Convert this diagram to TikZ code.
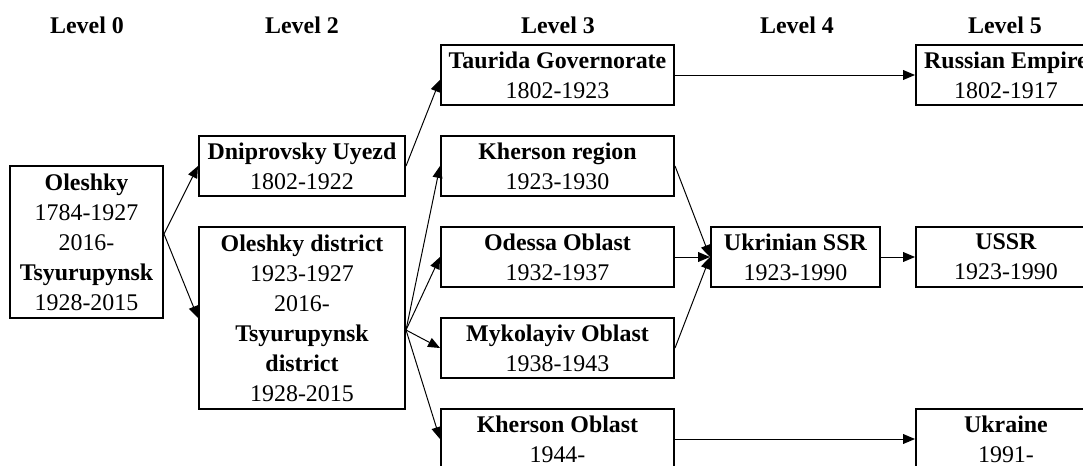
\documentclass[tikz,border=0pt]{standalone}
\usepackage{fontspec}
\setmainfont{Liberation Serif}
\usetikzlibrary{arrows.meta, positioning}
\tikzset{
  every picture/.style={line width=0.7pt},
  unit/.style={draw, line width=1.4pt, align=center, inner sep=0pt, minimum width=#1, minimum height=1.5cm, font=\fontsize{17}{21.3}\selectfont},
  unit/.default=5.825cm,
  link/.style={-{Triangle[length=8.5pt, width=7pt]}, line width=0.7pt},
  lvl/.style={font=\fontsize{17}{21.3}\selectfont\bfseries},
}

\begin{document}
\begin{tikzpicture}[x=0.025cm, y=-0.025cm]
  \useasboundingbox (0,0) rectangle (1083,466);
  \foreach \n/\x in {0/87, 2/302, 3/558, 4/797, 5/1005}
    \node[lvl] (lvl\n) at (\x, 25) {Level \n};

  \node[unit=3.825cm, minimum height=3.8cm] (oleshky) at (86.5, 242) {\textbf{Oleshky}\\1784-1927\\2016-\\\textbf{Tsyurupynsk}\\1928-2015};
  \node[unit=5.15cm] (dniprovsky) at (302, 166) {\textbf{Dniprovsky Uyezd}\\1802-1922};
  \node[unit=5.15cm, minimum height=4.55cm] (odistrict) at (302, 318) {\textbf{Oleshky district}\\1923-1927\\2016-\\\textbf{Tsyurupynsk}\\\textbf{district}\\1928-2015};
  \node[unit] (taurida) at (557.5, 75) {\textbf{Taurida Governorate}\\1802-1923};
  \node[unit] (kregion) at (557.5, 166) {\textbf{Kherson region}\\1923-1930};
  \node[unit] (odessa) at (557.5, 257) {\textbf{Odessa Oblast}\\1932-1937};
  \node[unit] (mykolayiv) at (557.5, 348) {\textbf{Mykolayiv Oblast}\\1938-1943};
  \node[unit] (koblast) at (557.5, 439) {\textbf{Kherson Oblast}\\1944-};
  \node[unit=4.225cm] (ssr) at (795.5, 257) {\textbf{Ukrinian SSR}\\1923-1990};
  \node[unit=4.5cm] (empire) at (1006, 75) {\textbf{Russian Empire}\\1802-1917};
  \node[unit=4.5cm] (ussr) at (1006, 257) {\textbf{USSR}\\1923-1990};
  \node[unit=4.5cm] (ukraine) at (1006, 439) {\textbf{Ukraine}\\1991-};
  \coordinate (fan) at ([yshift=-0.3cm]odistrict.east);
  \coordinate (split) at ([yshift=0.2cm]oleshky.east);

  \draw[link] (split) -- (dniprovsky.west);
  \draw[link] (split) -- (odistrict.west);
  \draw[link] (dniprovsky.east) -- ([yshift=-0.12cm]taurida.west);
  \foreach \t in {kregion, odessa, mykolayiv, koblast}
    \draw[link] (fan) -- (\t.west);
  \foreach \s in {kregion, odessa, mykolayiv}
    \draw[link] (\s.east) -- (ssr.west);
  \draw[link] (taurida.east) -- (empire.west);
  \draw[link] (ssr.east) -- (ussr.west);
  \draw[link] (koblast.east) -- (ukraine.west);
\end{tikzpicture}
\end{document}
